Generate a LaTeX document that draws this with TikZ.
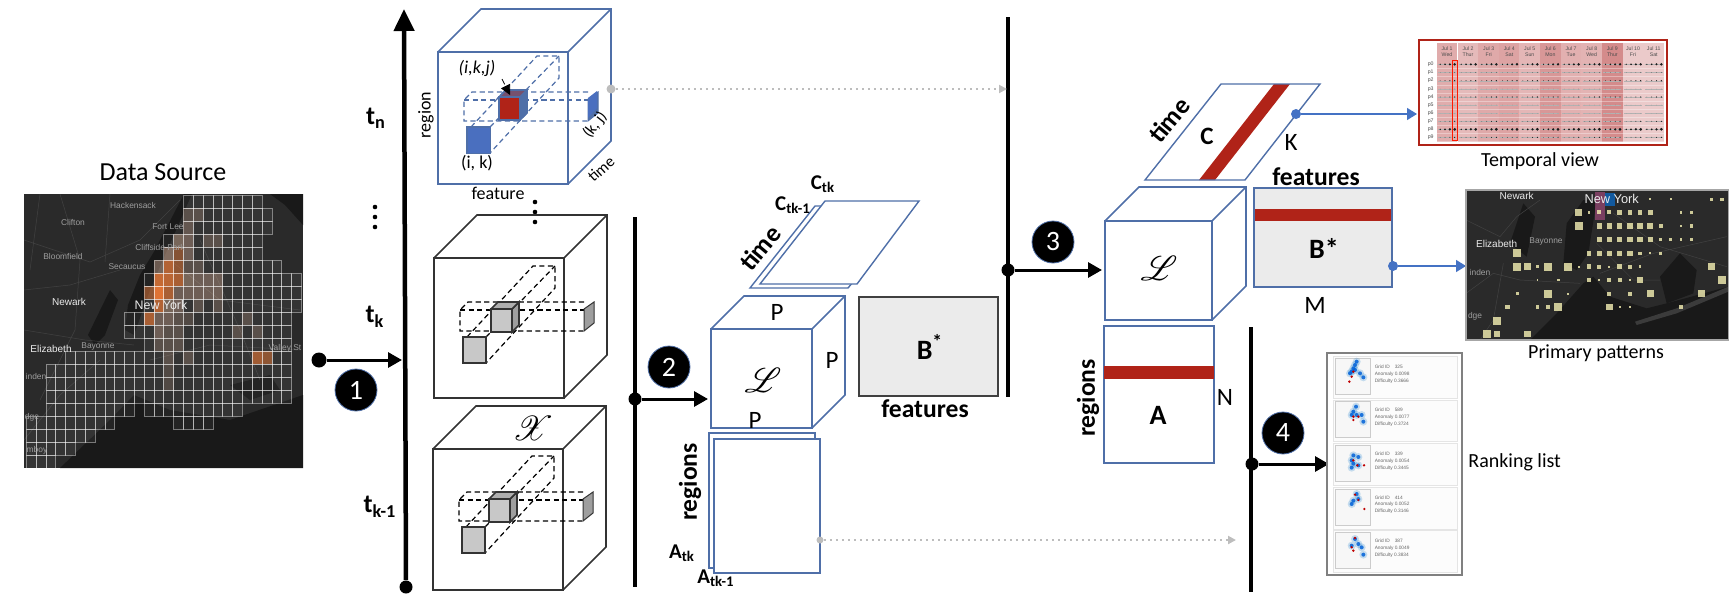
\documentclass[tikz,border=0pt]{standalone}
\usepackage{fontspec}
\usepackage{amsmath}
\usepackage{mathrsfs}
\setmainfont{Carlito}
\newfontfamily\mapfont{Liberation Sans}
\usetikzlibrary{arrows.meta}

\definecolor{cubeblue}{HTML}{4F6FA8}
\definecolor{patchblue}{HTML}{4A6FBF}
\definecolor{tensorred}{HTML}{B02318}
\definecolor{boxgray}{HTML}{EBEBEB}
\definecolor{cubegray}{HTML}{C8C8C8}
\definecolor{cubeside}{HTML}{9E9E9E}
\definecolor{maproad}{HTML}{424242}
\definecolor{mapland}{HTML}{2A2A2A}
\definecolor{mapwater}{HTML}{191919}
\definecolor{heat}{HTML}{E8702A}
\definecolor{patchyellow}{HTML}{F6F1B4}
\definecolor{tablered}{HTML}{C25A5A}
\definecolor{linkgray}{HTML}{BDBDBD}
\definecolor{linkblue}{HTML}{4472C4}

\tikzset{
  axisline/.style={line width=2.25pt},
  flow/.style={line width=1.5pt,-{Triangle[length=7pt,width=7.5pt]}},
  axisdot/.style={circle,fill=black,inner sep=0pt,minimum size=6.5pt},
  stepmark/.style={circle,fill=black,draw=cubeblue,line width=.4pt,text=white,inner sep=0pt,minimum size=21pt,font=\fontsize{14}{14}\selectfont},
  bluelink/.style={linkblue,line width=.7pt,-{Triangle[length=5pt,width=6pt]}},
  bluedot/.style={circle,fill=linkblue,inner sep=0pt,minimum size=5pt},
  graylink/.style={linkgray,line width=1pt,dotted,-{Triangle[length=4pt,width=4pt]}},
  graydot/.style={circle,fill=linkgray,inner sep=0pt,minimum size=4.5pt},
  slab/.style={cubeblue,line width=.7pt},
  cubeface/.style={line width=.8pt},
  thin dash/.style={line width=.6pt,dash pattern=on 2.6pt off 1.7pt},
  small/.style={font=\fontsize{9}{10}\selectfont},
  mid/.style={font=\fontsize{12.5}{13}\selectfont},
  heavy/.style={font=\fontsize{12.8}{13}\selectfont\bfseries},
  caption/.style={font=\fontsize{10}{11}\selectfont},
  timelabel/.style={font=\fontsize{13}{14}\selectfont\bfseries},
  gridcell/.style={white,draw opacity=.42,fill opacity=.05,fill=white,line width=.3pt},
  maptext/.style={font=\fontsize{4.2}{5}\mapfont,text=white!62!black,inner sep=0pt},
  mapcity/.style={font=\fontsize{5}{6}\mapfont,text=white!92!black,inner sep=0pt},
  tablefont/.style={font=\fontsize{2.6}{3}\mapfont,text=black!70,inner sep=0pt,align=center},
  rankfont/.style={font=\fontsize{2.4}{3.4}\mapfont,text=black!60,inner sep=0pt,anchor=west},
}

% front face corners, depth of the box, colour
\newcommand{\tensorbox}[6]{
  \draw[#6,cubeface,fill=white] (#1,#2) rectangle (#3,#4);
  \draw[#6,cubeface] (#1,#2) -- ++(#5,-#5) -- ({#3+#5},{#2-#5}) -- ({#3+#5},{#4-#5}) -- (#3,#4);
  \draw[#6,cubeface] (#3,#2) -- ++(#5,-#5);
}

% the slices in a cube; positions are those of the middle cube before the shift
\newcommand{\fiberset}[7]{
  \begin{scope}[shift={(#1,#2)}]
    \draw[#5,thin dash] (467,337) -- (533,266) -- (555,266) -- (555,288) -- (486,363);
    \draw[#5,thin dash] (486,337) -- (555,266);
    \draw[#5,thin dash] (584,302) -- (468,302) -- (460,310) -- (460,331) -- (584,331);
    \draw[#5,thin dash] (460,310) -- (584,310);
    \draw[#7,line width=.8pt,fill=#3] (463,337) rectangle (486,363);
    \draw[#7,line width=.5pt,fill=#4] (584,309) -- (594,302) -- (594,323) -- (584,331) -- cycle;
  \end{scope}
  \begin{scope}[shift={(#6)}]
    \draw[#7,line width=.8pt,fill=#4] (512,309) -- (519,302) -- (519,325) -- (512,332) -- cycle;
    \draw[#7,line width=.8pt,fill=#4!60!#3] (491,309) -- (498,302) -- (519,302) -- (512,309) -- cycle;
    \draw[#7,line width=.8pt,fill=#3] (491,309) rectangle (512,332);
  \end{scope}
}

% one row of the ranking list
\newcommand{\rankrow}[6]{
  \draw[black!10,fill=black!1,line width=.3pt] (40,#1) rectangle (413,#1+125);
  \draw[black!20,fill=black!3,line width=.4pt] (46,#1+5) rectangle (152,#1+113);
  \foreach \bx/\by in {#5}
    \fill[cyan!60!blue,opacity=.22] (\bx,#1+\by) circle (12);
  \foreach \bx/\by in {#5}
    \fill[blue!55!cyan!85!black,opacity=.85] (\bx,#1+\by) circle (6);
  \foreach \bx/\by in {#6}
    \fill[red!75!black] (\bx,#1+\by) circle (4);
  \node[rankfont] (grid#2) at (163,#1+30) {Grid ID\quad #2};
  \node[rankfont] (anom#2) at (163,#1+52) {Anomaly #3};
  \node[rankfont] (diff#2) at (163,#1+73) {Difficulty #4};
}

\begin{document}
\begin{tikzpicture}[x=.5pt,y=-.5pt]
\useasboundingbox (0,0) rectangle (1734,594);

% data source map
\node[font=\fontsize{13}{14}\selectfont] (source) at (163,172) {Data Source};
\begin{scope}
  \clip (24,194) rectangle (303,468);
  \fill[mapland] (24,194) rectangle (303,468);
  \fill[mapwater] (60,468) -- (110,420) -- (134,395) -- (170,410) -- (230,420) -- (303,395) -- (303,468) -- cycle;
  \fill[mapwater] (192,194) -- (184,194) -- (155,250) -- (140,275) -- (128,305) -- (125,330) -- (134,335) -- (150,290) -- (165,255) -- cycle;
  \fill[mapwater] (110,290) -- (118,300) -- (105,335) -- (95,345) -- (88,335) -- cycle;
  \fill[mapwater] (270,194) -- (303,194) -- (303,225) -- (285,205) -- cycle;
  \fill[mapwater] (230,385) -- (270,375) -- (280,390) -- (250,400) -- cycle;
  \draw[maproad,line width=.25pt] (24,240) -- (90,262) -- (140,240) -- (180,200)
    (24,290) -- (70,285) -- (120,270) (60,194) -- (80,260) -- (75,330) -- (40,400)
    (24,330) -- (85,340) -- (134,345) (110,194) -- (105,262) (40,194) -- (30,270)
    (24,440) -- (60,395) -- (100,360) (170,260) -- (220,300) -- (300,310)
    (200,240) -- (240,330) -- (260,380) (150,360) -- (210,345) -- (300,350);
  \foreach \c/\r/\o in {2/7/.95,2/6/.8,3/6/.75,4/6/.65,3/5/.7,3/7/.65,2/8/.7,1/7/.5,1/9/.65,4/5/.5,4/4/.45,
      3/4/.4,4/3/.35,5/3/.3,5/4/.3,5/2/.25,5/1/.2,6/1/.2,2/5/.35,5/6/.35,6/6/.3,7/6/.3,8/6/.3,4/7/.3,5/7/.3,
      6/7/.3,7/7/.3,8/7/.3,2/9/.3,3/8/.35,4/8/.3,3/9/.3,4/9/.2,2/10/.3,3/10/.2,4/10/.2,2/11/.2,3/11/.2,
      4/11/.2,3/12/.2,5/12/.2,12/12/.6,13/12/.5,11/9/.2,12/10/.2,10/10/.2,7/3/.2,8/8/.2,8/3/.2,6/8/.2,
      5/5/.2,6/5/.2,3/13/.15,3/14/.15,5/9/.15}{
    \pgfmathtruncatemacro\mix{\o>.42?100:45}
    \fill[heat!\mix!white,opacity=\o] ({134.3+9.83*\c},{195+13*\r}) rectangle ++(9.83,13);
  }
  \foreach \r/\a/\b in {0/5/12,1/5/13,2/5/13,3/3/12,4/3/12,5/2/14,6/1/16,7/1/16,8/1/16,9/-1/15,10/-1/15,11/1/15,
      12/-7/-1,12/0/15,13/-9/-1,13/0/15,14/-9/-1,14/0/15,15/-9/-1,15/0/15,16/-9/-1,16/1/10,17/-11/-3,17/4/7,
      18/-11/-5,19/-11/-7,20/-11/-9}
    \foreach \c in {\a,...,\b}
      \draw[gridcell] ({134.3+9.83*\c},{195+13*\r}) rectangle ++(9.83,13);
  \node[maptext] (hackensack) at (133,205) {Hackensack};
  \node[maptext] (clifton) at (73,222) {Clifton};
  \node[maptext] (fortlee) at (168,227) {Fort Lee};
  \node[maptext] (cliffside) at (160,247) {Cliffside Park};
  \node[maptext] (bloomfield) at (63,256) {Bloomfield};
  \node[maptext] (secaucus) at (127,267) {Secaucus};
  \node[mapcity] (newark) at (69,302) {Newark};
  \node[mapcity,font=\fontsize{6.2}{7}\mapfont] (newyork) at (161,305) {New York};
  \node[mapcity] (elizabeth) at (51,349) {Elizabeth};
  \node[maptext] (bayonne) at (98,346) {Bayonne};
  \node[maptext] (valley) at (285,348) {Valley St};
  \node[maptext] (linden) at (36,376) {inden};
  \node[maptext] (woodbridge) at (32,417) {dge};
  \node[maptext] (amboy) at (37,450) {mboy};
\end{scope}

% first axis with the cubes
\coordinate (axisatop) at (404,9);
\node[axisdot] (axisabot) at (406,587) {};
\draw[line width=2.25pt,-{Triangle[length=11pt,width=10pt]}] (axisabot) -- (axisatop);
\node[axisdot,minimum size=7.5pt] (starta) at (319,360) {};
\coordinate (enda) at (402,360);
\draw[flow] (starta) -- (enda);
\node[stepmark] (stepa) at (356,390) {1};

\node[timelabel] (tn) at (376,118) {t\textsubscript{n}};
\foreach \y in {207,217,227}
  \fill (375,\y) circle (2.3);
\node[timelabel] (tk) at (375,317) {t\textsubscript{k}};
\node[timelabel] (tkm) at (380,507) {t\textsubscript{k-1}};

\tensorbox{438}{52}{568}{184}{43}{cubeblue}
\fiberset{4}{-210}{tensorred}{cubeblue}{cubeblue}{8,-212}{cubeblue}
\fill[patchblue] (468,128) rectangle (490,153);
\fill[patchblue] (588,98) -- (597,91) -- (597,108) -- (588,118) -- cycle;
\node[small,font=\fontsize{9}{10}\selectfont\itshape] (ikj) at (477,68) {(i,k,j)};
\coordinate (ikjfrom) at (502,79);
\coordinate (ikjto) at (510,95);
\draw[line width=.4pt,densely dashed,-{Triangle[length=5pt,width=5pt]}] (ikjfrom) -- (ikjto);
\node[small] (ik) at (477,163) {(i, k)};
\node[small,rotate=90] (regionlabel) at (426,115) {region};
\node[small] (featurelabel) at (498,193) {feature};
\node[small,rotate=52,font=\fontsize{8}{9}\selectfont] (kj) at (595,125) {(k, j)};
\node[small,rotate=42,font=\fontsize{8}{9}\selectfont] (timelabel) at (601,169) {time};
\foreach \y in {202,212,222}
  \fill (535,\y) circle (2.3);

\tensorbox{434}{258}{564}{398}{43}{black!80}
\fiberset{0}{0}{cubegray}{cubeside}{black}{0,0}{black!80}
\tensorbox{433}{449}{563}{590}{43}{black!80}
\fiberset{-1}{190}{cubegray}{cubeside}{black}{-2,190}{black!80}
\node[font=\fontsize{19}{21}\selectfont] (xtensor) at (533,428) {$\mathscr{X}$};

% second axis
\coordinate (axisbtop) at (635,217);
\coordinate (axisbbot) at (635,587);
\draw[axisline] (axisbtop) -- (axisbbot);
\node[axisdot] (startb) at (635,399) {};
\coordinate (endb) at (708,399);
\draw[flow] (startb) -- (endb);
\node[stepmark] (stepb) at (669,367) {2};

\draw[slab,fill=white] (750,288) -- (848,288) -- (880,250) -- (822,206) -- (815,206) -- cycle;
\draw[slab,fill=white] (760,284) -- (857,284) -- (919,201) -- (825,201) -- cycle;
\node[font=\fontsize{10.5}{11}\selectfont\bfseries] (ctk) at (823,184) {C\textsubscript{tk}};
\node[font=\fontsize{10.5}{11}\selectfont\bfseries] (ctkm) at (793,205) {C\textsubscript{tk-1}};
\node[timelabel,rotate=50] (timeb) at (760,248) {time};

\tensorbox{711}{329}{812}{428}{33}{cubeblue}
\node[mid] (pa) at (777,312) {P};
\node[mid] (pb) at (832,360) {P};
\node[mid] (pc) at (755,420) {P};
\node[font=\fontsize{19}{21}\selectfont] (ztensor) at (763,380) {$\mathscr{L}$};

\draw[slab,fill=white] (709,433) rectangle (815,568);
\draw[slab,fill=white] (714,439) rectangle (820,573);
\node[heavy,rotate=90] (regionsb) at (690,482) {regions};
\node[font=\fontsize{10.5}{11}\selectfont\bfseries] (atk) at (682,553) {A\textsubscript{tk}};
\node[font=\fontsize{10.5}{11}\selectfont\bfseries] (atkm) at (716,578) {A\textsubscript{tk-1}};

\node[draw=black!75,fill=boxgray,line width=.6pt,minimum width=69.5pt,minimum height=49.5pt,inner sep=0pt] (bstar) at (928.5,346.5) {};
\node[font=\fontsize{14}{15}\selectfont\bfseries] (bstarlabel) at (930,347) {B\textsuperscript{*}};
\node[heavy] (featuresb) at (925,409) {features};

% third axis
\coordinate (axisctop) at (1008,17);
\coordinate (axiscbot) at (1008,397);
\draw[axisline] (axisctop) -- (axiscbot);
\node[axisdot] (startc) at (1008,270) {};
\coordinate (endc) at (1102,270);
\draw[flow] (startc) -- (endc);
\node[stepmark] (stepc) at (1053,242) {3};

\node[graydot] (cubeport) at (611,89) {};
\coordinate (axiscport) at (1007,89);
\draw[graylink] (cubeport) -- (axiscport);
\node[graydot,minimum size=3.5pt] (slabport) at (820,540) {};
\coordinate (axisdport) at (1236,540);
\draw[graylink] (slabport) -- (axisdport);

\fill[tensorred] (1199,180) -- (1215,180) -- (1290,84) -- (1274,84) -- cycle;
\draw[slab] (1145,180) -- (1245,180) -- (1320,84) -- (1221,84) -- cycle;
\node[font=\fontsize{12.5}{13}\selectfont\bfseries] (cmat) at (1207,136) {C};
\node[mid] (klabel) at (1291,142) {K};
\node[timelabel,rotate=50] (timec) at (1169,120) {time};

\tensorbox{1105}{221}{1212}{320}{34}{cubeblue}
\node[font=\fontsize{19}{21}\selectfont] (ztensorb) at (1159,268) {$\mathscr{L}$};

\draw[slab,fill=white] (1104,326) rectangle (1214,463);
\fill[tensorred] (1104,366) rectangle (1214,379);
\node[font=\fontsize{14}{15}\selectfont\bfseries] (amat) at (1158,415) {A};
\node[mid] (nlabel) at (1225,397) {N};
\node[heavy,rotate=90] (regionsc) at (1088,398) {regions};

\draw[slab,fill=boxgray] (1254,188) rectangle (1392,287);
\fill[tensorred] (1254,209) rectangle (1392,221);
\draw[slab] (1254,188) rectangle (1392,287);
\node[font=\fontsize{14}{15}\selectfont\bfseries] (bmat) at (1324,248) {B*};
\node[mid] (mlabel) at (1315,305) {M};
\node[heavy] (featuresc) at (1316,177) {features};

% blue links to the views
\node[bluedot] (cport) at (1296,114) {};
\coordinate (temporalin) at (1417,114);
\draw[bluelink] (cport) -- (temporalin);
\node[bluedot] (bport) at (1393,266) {};
\coordinate (primaryin) at (1466,266);
\draw[bluelink] (bport) -- (primaryin);

% temporal view
\begin{scope}[shift={(1410,30)},x=.16667pt,y=-.16667pt]
  \fill[white] (27,30) rectangle (770,345);
  \foreach \colx/\dayname/\weekday/\shade in {80/Jul 1/Wed/50,143/Jul 2/Thur/42,205/Jul 3/Fri/52,267/Jul 4/Sat/56,
      328/Jul 5/Sun/44,390/Jul 6/Mon/63,452/Jul 7/Tue/48,514/Jul 8/Wed/46,576/Jul 9/Thur/70,638/Jul 10/Fri/32,700/Jul 11/Sat/32}{
    \fill[tablered!\shade] (\colx,40) rectangle +(62,295);
    \node[tablefont] (head\colx) at (\colx+31,65) {\dayname\\\weekday};
    \foreach \rowy/\base in {103/3.4,127/.9,152/1.8,177/.5,201/1.7,225/.3,250/.3,274/1.5,298/3.8,322/1.5}{
      \draw[black!30,line width=.05pt] (\colx+4,\rowy) -- (\colx+58,\rowy);
      \foreach \d in {1,...,4}
        \fill[black!90] (\colx-4+14.5*\d,\rowy) circle ({\base*(.4+.2*\d)});
    }
  }
  \foreach \rowy/\rowname in {103/p0,127/p1,152/p2,177/p3,201/p4,225/p5,250/p6,274/p7,298/p8,322/p9}{
    \node[tablefont] (row\rowname) at (62,\rowy) {\rowname};
    \draw[white,opacity=.35,line width=.15pt] (80,\rowy+12) -- (762,\rowy+12);
  }
  \draw[red!80!orange,line width=.5pt] (126,90) rectangle (143,330);
  \draw[tensorred,line width=1pt] (27,30) rectangle (770,345);
\end{scope}
\node[caption] (temporal) at (1540,161) {Temporal view};

% primary patterns map
\begin{scope}[shift={(1460,180)},x=.16667pt,y=-.16667pt]
  \begin{scope}
    \clip (18,30) rectangle (805,480);
    \fill[mapland] (18,30) rectangle (805,480);
    \fill[mapwater] (210,480) -- (290,400) -- (370,310) -- (400,290) -- (450,350) -- (560,385) -- (620,370) -- (805,320) -- (805,480) -- cycle;
    \fill[mapwater] (320,130) -- (370,60) -- (410,60) -- (385,220) -- (350,270) -- (310,250) -- cycle;
    \fill[mapwater] (600,290) -- (660,220) -- (710,270) -- (700,340) -- (620,370) -- cycle;
    \fill[mapwater] (190,70) -- (225,110) -- (200,230) -- (150,190) -- cycle;
    \fill[mapland!92!white] (525,425) -- (650,385) -- (805,320) -- (805,335) -- (650,400) -- (530,435) -- cycle;
    \draw[maproad,line width=.25pt] (18,120) -- (120,170) -- (170,110) -- (240,60)
      (18,340) -- (100,280) -- (180,300) -- (360,310) (130,250) -- (100,420) -- (60,480)
      (410,190) -- (520,300) -- (600,300) (460,100) -- (600,200) -- (800,260) (420,280) -- (580,220) -- (800,170);
    \fill[magenta!60!gray,opacity=.5] (405,35) rectangle (435,120);
    \fill[blue!50!cyan,opacity=.55] (435,38) rectangle (465,78);
    \foreach \sx/\sy/\ss in {172/220/12,172/260/12,264/260/12,325/260/12,264/341/12,295/381/12,111/422/12,80/462/12,
        356/138/12,786/300/12,203/260/10,356/97/10,755/260/10,540/300/9,571/341/10,724/341/10,448/381/10,203/462/10,111/462/9,
        387/97/4,418/97/6,448/97/6,479/97/7,510/97/7,540/97/7,571/97/7,663/97/4,694/97/4,571/58/3,632/58/3,755/58/5,786/58/5,
        418/138/8,448/138/8,479/138/8,510/138/8,540/138/8,571/138/9,602/138/6,663/138/4,694/138/5,
        418/179/7,448/179/8,479/179/8,510/179/8,540/179/8,571/179/7,602/179/4,632/179/4,663/179/4,694/179/4,
        387/220/7,418/220/7,448/220/8,479/220/8,510/220/8,540/220/5,571/220/3,602/220/4,
        233/260/4,356/260/3,387/260/7,418/260/6,448/260/3,479/260/7,510/260/6,540/260/4,
        387/300/7,418/300/3,448/300/6,479/300/6,510/300/3,295/300/4,233/300/2,
        448/341/6,510/341/6,172/341/5,325/341/3,
        142/381/7,233/381/5,264/381/7,479/381/3,510/381/4,663/381/7}
      \fill[patchyellow,opacity=.8] (\sx-\ss,\sy-\ss) rectangle (\sx+\ss,\sy+\ss);
    \node[mapcity] (newarkb) at (170,47) {Newark};
    \node[mapcity,font=\fontsize{6.4}{7}\mapfont] (newyorkb) at (455,57) {New York};
    \node[mapcity] (elizabethb) at (110,192) {Elizabeth};
    \node[maptext] (bayonneb) at (258,183) {Bayonne};
    \node[maptext] (lindenb) at (60,278) {inden};
    \node[maptext] (woodbridgeb) at (45,408) {dge};
  \end{scope}
  \draw[black!35,line width=.6pt] (18,30) rectangle (805,480);
\end{scope}
\node[caption] (primary) at (1596,353) {Primary patterns};

% fourth axis and ranking list
\coordinate (axisdtop) at (1251,327);
\coordinate (axisdbot) at (1251,592);
\draw[axisline] (axisdtop) -- (axisdbot);
\node[axisdot] (startd) at (1252,464) {};
\coordinate (endd) at (1329,464);
\draw[flow] (startd) -- (endd);
\node[stepmark] (stepd) at (1283,433) {4};

\begin{scope}[shift={(1320,345)},x=.16667pt,y=-.16667pt]
  \draw[black!50,fill=white,line width=1.1pt] (20,23) rectangle (425,690);
  \rankrow{35}{325}{0.0098}{0.3666}{110/15,105/25,100/35,95/45,105/40,120/50,130/62,90/50}{100/45,88/75,95/60}
  \rankrow{165}{589}{0.0077}{0.3724}{108/20,100/35,95/45,110/45,125/45,130/65}{100/50,115/50,100/60}
  \rankrow{296}{339}{0.0054}{0.3445}{100/35,95/50,100/60,95/72,115/40,115/65}{100/50,112/65,132/65}
  \rankrow{427}{414}{0.0052}{0.3146}{110/20,100/40,95/50,115/35}{105/22,115/38,133/65}
  \rankrow{557}{387}{0.0049}{0.3834}{105/25,95/45,115/40,125/50,130/72}{95/50,100/60,105/22}
\end{scope}
\node[caption,anchor=west,inner sep=0pt] (ranking) at (1468,462) {Ranking list};

\end{tikzpicture}
\end{document}
